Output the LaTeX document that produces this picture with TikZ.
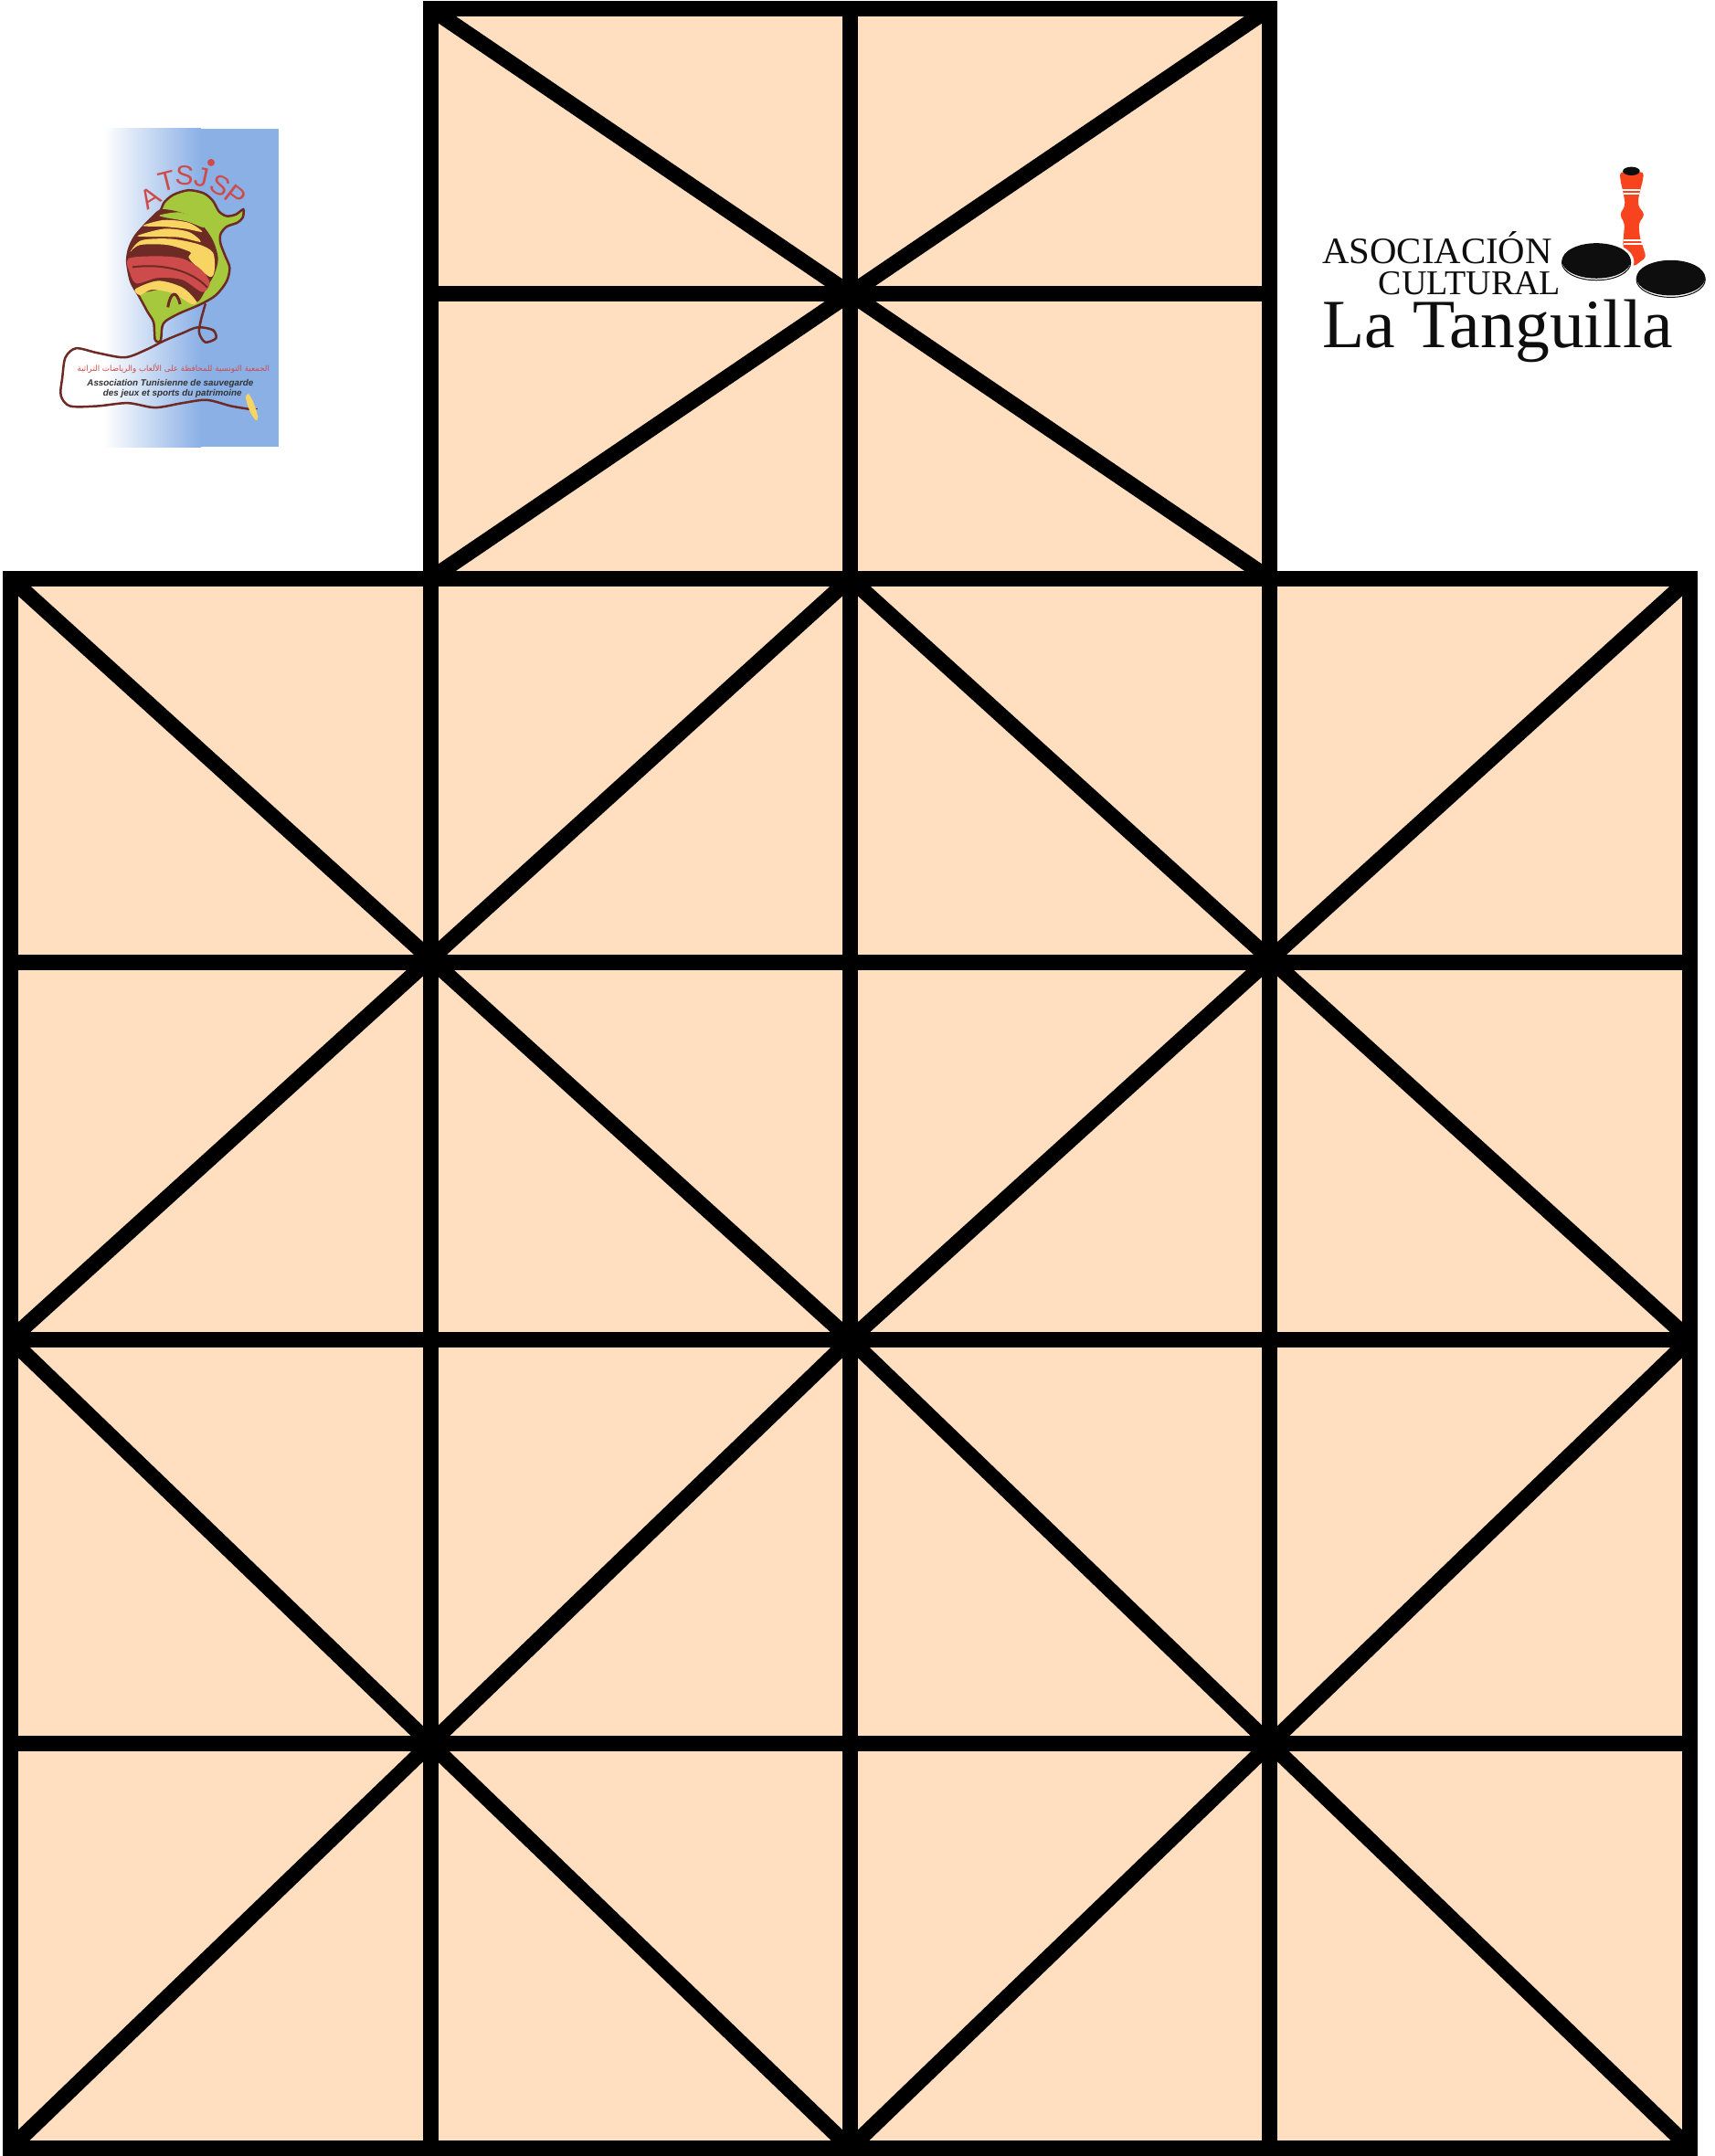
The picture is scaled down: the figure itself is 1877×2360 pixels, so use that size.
\documentclass[tikz,border=0pt]{standalone}
\usepackage{fontspec}
\usepackage{xcolor}
\usepackage{tikz}
\TeXXeTstate=1
\newfontfamily\logosans{Liberation Sans}
\newfontfamily\logoserif{Liberation Serif}
\newfontfamily\arabicfont[Script=Arabic]{DejaVu Sans}
\definecolor{boardc}{HTML}{FFDFC0}
\definecolor{skyc}{HTML}{8AB0E6}
\definecolor{cordc}{HTML}{6E2A24}
\definecolor{limec}{HTML}{A6C83C}
\definecolor{sunc}{HTML}{F8D462}
\definecolor{rosec}{HTML}{CE4B4B}
\definecolor{pegc}{HTML}{F8431F}
\definecolor{inkc}{HTML}{0E0E0E}
\tikzset{
  bd/.style={draw=black,line width=0.17cm},
  cord/.style={draw=cordc,line width=0.025cm,line cap=round},
  letr/.style={text=rosec,inner sep=0pt,font=\logosans\fontsize{8.5}{10}\selectfont},
  frtx/.style={text=inkc!85,inner sep=0pt,font=\logosans\bfseries\itshape\fontsize{2.8}{3}\selectfont},
  lbl/.style={inner sep=0pt,text=inkc,anchor=base west},
  band/.style={draw=white,line width=0.02cm}
}
\begin{document}
\begin{tikzpicture}[x=0.01cm,y=-0.01cm]
\useasboundingbox (0,0) rectangle (1877,2360);
\fill[boardc] (471.5,9.5) rectangle (1389.5,633.3);
\fill[boardc] (11.5,633.3) rectangle (1849.5,2351.3);
\draw[bd] (471.5,9.5) rectangle (1389.5,633.3);
\draw[bd] (11.5,633.3) rectangle (1849.5,2351.3);
\draw[bd] (930.5,9.5)--(930.5,633.3);
\draw[bd] (471.5,321.3)--(1389.5,321.3);
\foreach \xx in {471.5,930.5,1389.5} \draw[bd] (\xx,633.3)--(\xx,2351.3);
\foreach \yy in {1053.7,1466.3,1908.7} \draw[bd] (11.5,\yy)--(1849.5,\yy);
\draw[bd] (471.5,9.5)--(1389.5,633.3);
\draw[bd] (1389.5,9.5)--(471.5,633.3);
\draw[bd] (11.5,633.3)--(930.5,1466.3)--(1849.5,633.3);
\draw[bd] (930.5,633.3)--(11.5,1466.3);
\draw[bd] (930.5,633.3)--(1849.5,1466.3);
\draw[bd] (11.5,1466.3)--(930.5,2351.3)--(1849.5,1466.3);
\draw[bd] (930.5,1466.3)--(11.5,2351.3);
\draw[bd] (930.5,1466.3)--(1849.5,2351.3);
\begin{scope}[shift={(40,120)},x=0.003333cm,y=-0.003333cm]
\fill[skyc] (540,63) rectangle (795,1110);
\shade[left color=white,right color=skyc] (220,63) rectangle (541,1110);
\draw[cord] plot[smooth] coordinates {(555,640) (540,695) (535,735) (555,765) (590,752) (580,725) (530,716) (480,735) (420,760) (360,790) (290,815) (200,800) (130,785) (95,815) (85,880) (80,940) (110,975) (200,975) (300,965) (390,980) (480,965) (560,955) (640,975) (700,985)};
\draw[cordc,line width=0.008cm] (700,985)--(728,985);
\draw[cordc,line width=0.025cm,fill=limec] plot[smooth cycle] coordinates {(420,305) (450,280) (500,265) (550,275) (580,300) (600,335) (625,350) (655,345) (680,328) (678,355) (660,372) (625,385) (605,410) (605,440) (620,480) (635,520) (625,565) (590,610) (540,640) (470,670) (425,695) (413,715) (408,760) (390,757) (385,700) (365,665) (335,610) (310,565) (298,500) (305,455) (325,415) (365,370) (405,335)};
\fill[cordc] plot[smooth cycle] coordinates {(410,328) (480,340) (540,375) (580,430) (597,490) (585,540) (560,585) (530,632) (490,610) (420,590) (335,602) (310,560) (298,495) (310,445) (340,395) (375,355)};
\fill[limec] plot[smooth cycle] coordinates {(405,347) (470,338) (530,362) (550,388) (495,368) (425,355)};
\fill[sunc] plot[smooth cycle] coordinates {(350,382) (420,363) (500,372) (545,402) (490,392) (420,385)};
\fill[sunc] plot[smooth cycle] coordinates {(332,415) (420,392) (500,402) (540,435) (470,420) (390,418)};
\fill[sunc] plot[smooth cycle] coordinates {(308,468) (345,430) (440,425) (530,442) (580,470) (585,530) (570,550) (520,510) (500,485) (505,468) (430,445) (340,445)};
\fill[rosec] plot[smooth cycle] coordinates {(302,490) (400,482) (480,490) (540,525) (570,570) (545,600) (480,560) (400,553) (330,572) (308,540)};
\draw[cordc,line width=0.02cm] (315,518) .. controls (420,505) and (510,530) .. (562,585);
\fill[sunc] plot[smooth cycle] coordinates {(325,590) (400,563) (480,585) (525,630) (510,640) (450,605) (380,592) (340,610)};
\draw[cordc,line width=0.03cm] (432,650) .. controls (440,600) and (460,590) .. (472,640);
\fill[sunc] plot[smooth cycle] coordinates {(688,945) (697,935) (712,960) (728,1010) (722,1022) (708,1005) (695,975)};
\node[letr,rotate=32] (lta) at (375,290) {A};
\node[letr,rotate=14] (ltt) at (430,236) {T};
\node[letr,rotate=-5] (lts) at (487,218) {S};
\node[letr,rotate=-12] (ltj) at (545,222) {J};
\fill[rosec] (574,174) circle (12);
\node[letr,rotate=-28] (ltz) at (604,250) {S};
\node[letr,rotate=-38] (ltp) at (655,285) {P};
\node[text=rosec,inner sep=0pt,font=\arabicfont\fontsize{2.47}{4}\selectfont] (artxt) at (450,852) {\beginR الجمعية التونسية للمحافظة على الألعاب والرياضات التراثية\endR};
\node[frtx] (frone) at (440,900) {Association Tunisienne de sauvegarde};
\node[frtx] (frtwo) at (447,933) {des jeux et sports du patrimoine};
\end{scope}
\begin{scope}[shift={(1420,160)},x=0.003333cm,y=-0.003333cm]
\fill[pegc,rounded corners=1pt] (1060,85) -- (1139,85) -- (1136,112) -- (1122,165) -- (1120,195) -- (1142,225) -- (1122,255) -- (1126,300) -- (1147,365) -- (1105,397) -- (1070,330) -- (1076,255) -- (1060,225) -- (1078,195) -- (1074,165) -- (1062,112) -- cycle;
\draw[band] (1068,143)--(1128,143);
\draw[band] (1072,157)--(1124,157);
\draw[band] (1074,308)--(1134,308);
\draw[band] (1072,322)--(1138,322);
\fill[inkc] (1098,82) ellipse (28 and 14);
\fill[white] (983,380) ellipse (124 and 68);
\draw[inkc,line width=0.01cm,fill=white] (983,383) ellipse (113 and 58);
\fill[inkc] (983,377) ellipse (113 and 58);
\draw[inkc,line width=0.01cm,fill=white] (1228,439) ellipse (113 and 58);
\fill[inkc] (1228,433) ellipse (113 and 58);
\node[lbl,font=\logoserif\fontsize{11.6}{13}\selectfont] (asoc) at (80,385) {ASOCIACIÓN};
\node[lbl,font=\logoserif\fontsize{10.8}{12}\selectfont] (cult) at (265,487) {CULTURAL};
\node[lbl,font=\logoserif\fontsize{21.5}{23}\selectfont] (tang) at (80,662) {La Tanguilla};
\end{scope}
\end{tikzpicture}
\end{document}
